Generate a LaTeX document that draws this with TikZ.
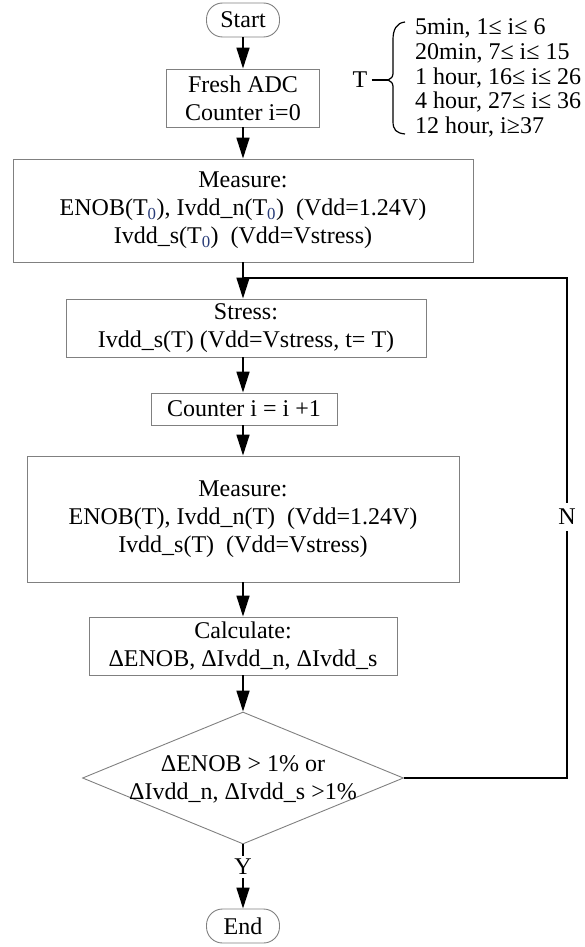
\documentclass[tikz,border=0pt]{standalone}
\usepackage{fontspec}
\setmainfont{Liberation Serif}
\usetikzlibrary{arrows.meta,shapes.geometric}
\definecolor{boxgray}{RGB}{128,128,128}
\definecolor{subblue}{RGB}{40,60,120}
\newcommand{\zsub}{\textcolor{subblue}{\textsubscript{0}}}
\begin{document}
\begin{tikzpicture}[x=1pt,y=-1pt,
  every node/.style={font=\fontsize{24}{28}\selectfont, inner sep=0pt},
  procbox/.style={draw=boxgray, line width=0.9pt, align=center, fill=white},
  termbox/.style={draw=boxgray, line width=0.9pt, rounded corners=16pt, minimum width=73pt, minimum height=34pt},
  decision/.style={draw=boxgray, line width=0.9pt, shape=diamond, minimum width=321pt, minimum height=132pt},
  flow/.style={line width=1.6pt, -{Triangle[length=21pt,width=13pt]}},
  loopline/.style={line width=2pt},
  lbl/.style={fill=white, inner sep=3pt}
]
\useasboundingbox (0,0) rectangle (585,947);

\node[termbox] (start) at (243,20) {Start};
\node[procbox, minimum width=153pt, minimum height=58pt] (fresh) at (243,98) {Fresh ADC\\Counter i=0};
\node[procbox, minimum width=460pt, minimum height=103pt] (meas1) at (243,210.5)
  {Measure:\\ENOB(T\zsub), Ivdd\_n(T\zsub)~~(Vdd=1.24V)\\Ivdd\_s(T\zsub)~~(Vdd=Vstress)};
\node[procbox, minimum width=360pt, minimum height=58pt] (stress) at (246,328)
  {Stress:\\Ivdd\_s(T) (Vdd=Vstress, t= T)};
\node[procbox, minimum width=186pt, minimum height=32pt] (counter) at (244,409) {Counter i = i +1};
\node[procbox, minimum width=432pt, minimum height=126pt] (meas2) at (243,519)
  {Measure:\\ENOB(T), Ivdd\_n(T)~~(Vdd=1.24V)\\Ivdd\_s(T)~~(Vdd=Vstress)};
\node[procbox, minimum width=308pt, minimum height=58pt] (calc) at (243,646)
  {Calculate:\\ΔENOB, ΔIvdd\_n, ΔIvdd\_s};
\node[decision] (dec) at (243,778) {};
\node[align=center] (dectext) at (243,779) {ΔENOB > 1\% or\\ΔIvdd\_n, ΔIvdd\_s >1\%};
\node[termbox] (end) at (243,926) {End};

% T schedule
\node (tlabel) at (360,80) {T};
\coordinate (bracetip) at (388,80);
\draw[line width=1.2pt] (tlabel.east) ++(4,0) -- (bracetip);
\draw[line width=1.2pt] (405,22) .. controls (396,23) and (393,30) .. (393,40)
  -- (393,70) .. controls (393,77) .. (388,80) .. controls (393,83) .. (393,90)
  -- (393,121) .. controls (393,130) and (396,133) .. (405,134);
\node[anchor=west, align=left, font=\fontsize{24}{24.75}\selectfont] (tlist) at (415,78)
  {5min, 1≤ i≤ 6\\20min, 7≤ i≤ 15\\1 hour, 16≤ i≤ 26\\4 hour, 27≤ i≤ 36\\12 hour, i≥37};

% main flow
\draw[flow] (start) -- (fresh);
\draw[flow] (fresh) -- (meas1);
\draw[flow] (meas1.south) -- (meas1.south |- stress.north);
\draw[flow] (stress.south -| meas1.south) -- (counter.north -| meas1.south);
\draw[flow] (counter.south -| meas1.south) -- (meas2.north);
\draw[flow] (meas2) -- (calc);
\draw[flow] (calc) -- (dec.north);
\draw[flow] (dec.south) -- (end.north);
\node[lbl] (ylabel) at (243,867) {Y};

% loop back
\coordinate (loopBR) at (567,778);
\coordinate (loopTR) at (567,278);
\coordinate (join) at (243,278);
\draw[loopline] (dec.east) -- (loopBR) -- (loopTR) -- (join);
\node[lbl, inner ysep=6pt] (nlabel) at (567,517) {N};
\end{tikzpicture}
\end{document}
